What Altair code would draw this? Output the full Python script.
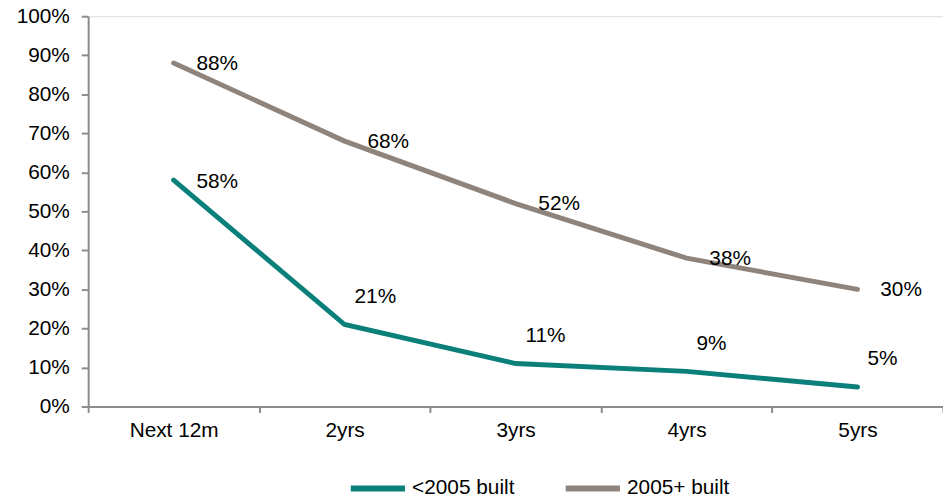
import altair as alt
import pandas as pd

periods = ["Next 12m", "2yrs", "3yrs", "4yrs", "5yrs"]
series_names = ["<2005 built", "2005+ built"]
pre_2005 = [58, 21, 11, 9, 5]
post_2005 = [88, 68, 52, 38, 30]
colors = ["#0B807B", "#8E847C"]

rows = []
for name, vals in zip(series_names, [pre_2005, post_2005]):
    for i, (p, v) in enumerate(zip(periods, vals)):
        rows.append({"period": p, "series": name, "value": v / 100.0,
                     "label": f"{v}%", "idx": i})
df = pd.DataFrame(rows)

FONT = "Liberation Sans"
FS = 21

x = alt.X("period:N", sort=periods, title=None,
          scale=alt.Scale(paddingInner=0, paddingOuter=0),
          axis=alt.Axis(labelAngle=0, tickBand="extent", tickSize=6,
                        labelPadding=7, labelFontSize=FS, labelFont=FONT,
                        labelColor="#000000", domainColor="#8C8C8C",
                        tickColor="#8C8C8C", domainWidth=2, tickWidth=2))
y = alt.Y("value:Q", title=None,
          scale=alt.Scale(domain=[0, 1], nice=False),
          axis=alt.Axis(format=".0%", values=[i / 10 for i in range(11)],
                        tickSize=7, labelPadding=12, labelFontSize=FS,
                        labelFont=FONT, labelColor="#000000", grid=False,
                        domainColor="#8C8C8C", tickColor="#8C8C8C",
                        domainWidth=2, tickWidth=2))
color = alt.Color("series:N",
                  scale=alt.Scale(domain=series_names, range=colors),
                  legend=alt.Legend(title=None, orient="none", direction="horizontal",
                                    legendX=262, legendY=446,
                                    symbolType="stroke", symbolSize=3000,
                                    symbolStrokeWidth=6, labelFontSize=FS,
                                    labelFont=FONT, labelColor="#000000",
                                    labelOffset=4, columnPadding=39))

base = alt.Chart(df)

lines = base.mark_line(strokeWidth=5, strokeCap="round").encode(
    x=x, y=y, color=color)

text_style = dict(font=FONT, fontSize=FS, color="#000000", align="left",
                  baseline="middle")

gray_labels = base.transform_filter(alt.datum.series == "2005+ built").mark_text(
    dx=23, dy=1, **text_style).encode(x=x, y=y, text="label:N")
teal_first = base.transform_filter(
    (alt.datum.series == "<2005 built") & (alt.datum.idx == 0)).mark_text(
    dx=23, dy=2, **text_style).encode(x=x, y=y, text="label:N")
teal_rest = base.transform_filter(
    (alt.datum.series == "<2005 built") & (alt.datum.idx > 0)).mark_text(
    dx=10, dy=-28, **text_style).encode(x=x, y=y, text="label:N")

chart = alt.layer(lines, gray_labels, teal_first, teal_rest).properties(
    width=863, height=394,
    autosize=alt.AutoSizeParams(type="none"),
    padding={"left": 89, "top": 14, "right": 0, "bottom": 89},
).configure_view(stroke=None).configure(background="#FFFFFF")

chart.save("out.html", embed_options={"renderer": "svg", "actions": False})
